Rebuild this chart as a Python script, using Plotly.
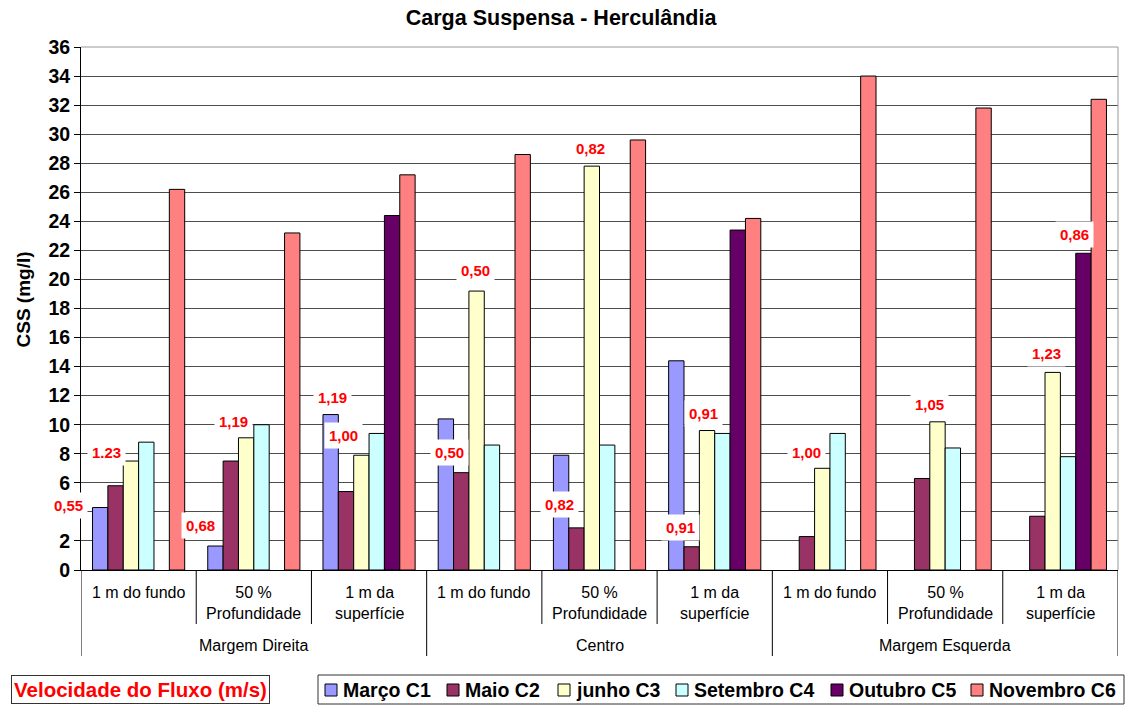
import plotly.graph_objects as go

groups = ["Margem Direita", "Centro", "Margem Esquerda"]
positions = ["1 m do fundo", "50 %<br>Profundidade", "1 m da<br>superfície"]
categories = [f"{g} | {p}" for g in groups for p in positions]

series_names = ["Março C1", "Maio C2", "junho C3", "Setembro C4", "Outubro C5", "Novembro C6"]
marco = [4.3, 1.65, 10.7, 10.4, 7.9, 14.4, None, None, None]
maio = [5.8, 7.5, 5.4, 6.7, 2.9, 1.6, 2.3, 6.3, 3.7]
junho = [7.5, 9.1, 7.9, 19.2, 27.8, 9.6, 7.0, 10.2, 13.6]
setembro = [8.8, 10.0, 9.4, 8.6, 8.6, 9.4, 9.4, 8.4, 7.8]
outubro = [None, None, 24.4, None, None, 23.4, None, None, 21.8]
novembro = [26.2, 23.2, 27.2, 28.6, 29.6, 24.2, 34.0, 31.8, 32.4]
series_values = [marco, maio, junho, setembro, outubro, novembro]
series_colors = ["#9999FF", "#993366", "#FFFFCC", "#CCFFFF", "#660066", "#FF8080"]

# y ticks (the "4" label is hidden behind the 0,55 label in the original)
y_tickvals = list(range(0, 37, 2))
y_ticktext = ["" if v == 4 else f"<b>{v}</b>" for v in y_tickvals]

velocity_labels = ["0,55", "1.23", "0,68", "1,19", "1,19", "1,00", "0,50", "0,50",
                   "0,82", "0,82", "0,91", "0,91", "1,00", "1,05", "1,23", "0,86"]
# label anchor positions (category index, y value)
label_x = [-0.61, -0.28, 0.54, 0.82, 1.68, 1.78, 2.70, 2.92,
           3.65, 3.92, 4.70, 4.90, 5.80, 6.86, 7.88, 8.12]
label_y = [4.47, 8.12, 3.03, 10.25, 11.9, 9.29, 8.12, 20.65,
           4.54, 29.04, 2.96, 10.8, 8.12, 11.36, 14.87, 23.06]

FONT = "Arial, Liberation Sans, sans-serif"

# plot-area geometry in pixels (for placing decorations outside the axes)
W, H = 1129, 706
L, R, T, B = 81, 1118, 47, 570
n = len(categories)


def px_x(px):
    return (px - L) / (R - L)


def px_y(py):
    return (B - py) / (B - T)


def cat_to_paper(c):
    return (c + 0.5) / n


fig = go.Figure()
for name, vals, col in zip(series_names, series_values, series_colors):
    fig.add_trace(go.Bar(
        x=categories, y=vals, name=name, showlegend=False,
        marker=dict(color=col, line=dict(color="#000000", width=1)),
    ))

annotations = []
for txt, lx, ly in zip(velocity_labels, label_x, label_y):
    annotations.append(dict(
        x=cat_to_paper(lx), y=ly, xref="paper", yref="y", text=f"<b>{txt}</b>",
        showarrow=False, xanchor="center", yanchor="middle",
        font=dict(family=FONT, size=15, color="#FF0000"),
        bgcolor="#FFFFFF", borderpad=4,
    ))

# category labels
for i, cat in enumerate(categories):
    annotations.append(dict(
        x=i, y=px_y(582), xref="x", yref="paper", text=positions[i % 3],
        showarrow=False, yanchor="top",
        font=dict(family=FONT, size=16, color="#000000"),
    ))
for g_i, g in enumerate(groups):
    annotations.append(dict(
        x=g_i * 3 + 1, y=px_y(645), xref="x", yref="paper", text=g,
        showarrow=False, yanchor="middle",
        font=dict(family=FONT, size=16, color="#000000"),
    ))

# y axis title
annotations.append(dict(
    x=px_x(22.5), y=px_y(300), xref="paper", yref="paper", text="<b>CSS (mg/l)</b>",
    showarrow=False, textangle=-90, xanchor="center", yanchor="middle",
    font=dict(family=FONT, size=19, color="#000000"),
))

# velocity box
annotations.append(dict(
    x=px_x(140), y=px_y(689.5), xref="paper", yref="paper",
    xanchor="center", yanchor="middle",
    text="<b>Velocidade do Fluxo (m/s)</b>", showarrow=False,
    font=dict(family=FONT, size=20.5, color="#FF0000"),
    bordercolor="#333333", borderwidth=1, borderpad=2, bgcolor="#FFFFFF",
))

shapes = []
for b in range(n + 1):
    is_group = b % 3 == 0
    shapes.append(dict(
        type="line", xref="x", yref="paper", x0=b - 0.5, x1=b - 0.5,
        y0=0, y1=px_y(656) if is_group else px_y(624),
        line=dict(color="#000000", width=1),
    ))
# top and right plot-area border
shapes.append(dict(type="line", xref="paper", yref="paper", x0=0, x1=1, y0=1, y1=1,
                   line=dict(color="#999999", width=1), layer="above"))
shapes.append(dict(type="line", xref="paper", yref="paper", x0=1, x1=1, y0=0, y1=1,
                   line=dict(color="#999999", width=1), layer="above"))

# legend (drawn manually to match the compact original layout)
legend_left_px = [325, 447, 558, 676, 831, 971]
shapes.append(dict(type="rect", xref="paper", yref="paper",
                   x0=px_x(318), x1=px_x(1124), y0=px_y(675), y1=px_y(704),
                   line=dict(color="#333333", width=1), fillcolor="#FFFFFF", layer="below"))
for name, col, lx in zip(series_names, series_colors, legend_left_px):
    shapes.append(dict(type="rect", xref="paper", yref="paper",
                       x0=px_x(lx), x1=px_x(lx + 12), y0=px_y(684), y1=px_y(696),
                       line=dict(color="#000000", width=1), fillcolor=col))
    annotations.append(dict(
        x=px_x(lx + 16), y=px_y(690), xref="paper", yref="paper",
        xanchor="left", yanchor="middle", text=f"<b>{name}</b>", showarrow=False,
        font=dict(family=FONT, size=19.5, color="#000000"),
    ))

fig.update_layout(
    width=W, height=H,
    margin=dict(l=L, r=W - R, t=T, b=H - B),
    paper_bgcolor="#FFFFFF", plot_bgcolor="#FFFFFF",
    barmode="group", bargap=0.2, bargroupgap=0,
    showlegend=False,
    title=dict(text="<b>Carga Suspensa - Herculândia</b>", x=0.497, xref="container",
               y=1 - 17 / H, yref="container", xanchor="center", yanchor="middle",
               font=dict(family=FONT, size=21.5, color="#000000")),
    xaxis=dict(type="category", showticklabels=False, showline=True,
               linecolor="#000000", linewidth=1, ticks="", showgrid=False,
               range=[-0.5, n - 0.5], zeroline=False, automargin=False),
    yaxis=dict(range=[0, 36], tickmode="array", tickvals=y_tickvals, ticktext=y_ticktext,
               showgrid=True, gridcolor="#4d4d4d",
               gridwidth=1, showline=True, linecolor="#000000", linewidth=1,
               ticks="outside", ticklen=6, tickcolor="#000000", zeroline=False,
               automargin=False,
               tickfont=dict(family=FONT, size=19.5, color="#000000")),
    annotations=annotations,
    shapes=shapes,
)

fig.write_html(
    "out.html",
    config={"displayModeBar": False},
    post_script="document.body.style.margin='0';document.body.style.overflow='hidden';",
)
